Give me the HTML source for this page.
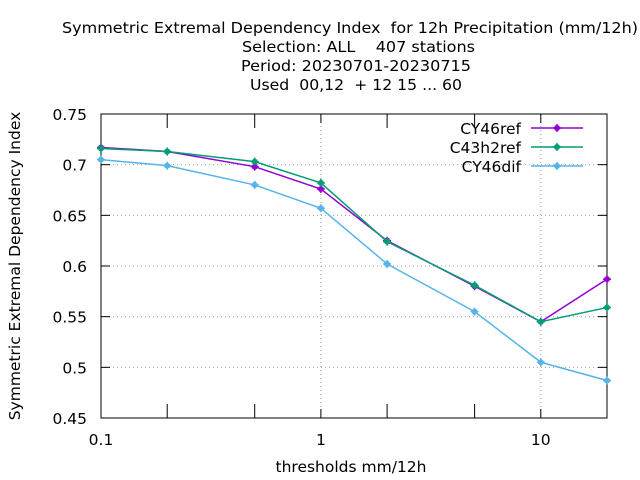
<!DOCTYPE html>
<html><head><meta charset="utf-8"><style>
body{margin:0;background:#fff;}
svg{display:block;font-family:"DejaVu Sans","Liberation Sans",sans-serif;}
text{white-space:pre;}
</style></head><body>
<svg id="chart" width="640" height="480" viewBox="0 0 640 480">
<g font-size="15.5" fill="#000">
<text x="62" y="33" textLength="576" lengthAdjust="spacingAndGlyphs" xml:space="preserve">Symmetric Extremal Dependency Index  for 12h Precipitation (mm/12h)</text>
<text x="242" y="52" textLength="233" lengthAdjust="spacingAndGlyphs" xml:space="preserve">Selection: ALL    407 stations</text>
<text x="241" y="71" textLength="230" lengthAdjust="spacingAndGlyphs" xml:space="preserve">Period: 20230701-20230715</text>
<text x="250" y="90" textLength="212" lengthAdjust="spacingAndGlyphs" xml:space="preserve">Used  00,12  + 12 15 ... 60</text>
</g>
<g id="grid"></g>
<g id="axes"></g>
<g id="series"></g>
<g id="legend"></g>
<text x="351" y="472" font-size="15.5" text-anchor="middle">thresholds mm/12h</text>
<text transform="translate(20,266) rotate(-90)" font-size="15.5" text-anchor="middle">Symmetric Extremal Dependency Index</text>
</svg>
<script>
const thresholds=[0.1,0.2,0.5,1,2,5,10,20];
const cy46ref=[0.717,0.713,0.698,0.676,0.625,0.580,0.545,0.587];
const c43h2ref=[0.716,0.713,0.703,0.682,0.624,0.581,0.545,0.559];
const cy46dif=[0.705,0.699,0.680,0.657,0.602,0.555,0.505,0.487];
const seriesNames=["CY46ref","C43h2ref","CY46dif"];
const yTicks=[0.45,0.5,0.55,0.6,0.65,0.7,0.75];
const yTickLabels=["0.45","0.5","0.55","0.6","0.65","0.7","0.75"];
const xTicks=[0.1,1,10];
const xTickLabels=["0.1","1","10"];
const xMinor=[0.2,0.5,2,5];

const L=101,R=607,T=114,B=418;
const NS="http://www.w3.org/2000/svg";
const X=v=>L+(Math.log10(v)-Math.log10(0.1))*(R-L)/(Math.log10(20)-Math.log10(0.1));
const Y=v=>B-(v-0.45)*(B-T)/(0.75-0.45);
function mk(tag,attrs,parent){const e=document.createElementNS(NS,tag);for(const k in attrs)e.setAttribute(k,attrs[k]);parent.appendChild(e);return e;}
const grid=document.getElementById('grid'),axes=document.getElementById('axes'),ser=document.getElementById('series'),leg=document.getElementById('legend');
yTicks.forEach((v,i)=>{
 if(i>0&&i<yTicks.length-1){const g=mk('line',{x1:L,x2:R,y1:Y(v),y2:Y(v),stroke:'#a0a0a0','stroke-dasharray':'1,3'},grid);
 }
 mk('line',{x1:L,x2:L+9,y1:Y(v),y2:Y(v),stroke:'#000'},axes);
 mk('line',{x1:R,x2:R-9,y1:Y(v),y2:Y(v),stroke:'#000'},axes);
 const t=mk('text',{x:L-14,y:Y(v)+6,'font-size':15.5,'text-anchor':'end'},axes);t.textContent=yTickLabels[i];
 
});
xTicks.forEach((v,i)=>{
 if(i>0){const g=mk('line',{x1:X(v),x2:X(v),y1:T,y2:B,stroke:'#a0a0a0','stroke-dasharray':'1,3'},grid);
 }
 mk('line',{x1:X(v),x2:X(v),y1:B,y2:B-9,stroke:'#000'},axes);
 mk('line',{x1:X(v),x2:X(v),y1:T,y2:T+9,stroke:'#000'},axes);
 const t=mk('text',{x:X(v),y:B+27,'font-size':15.5,'text-anchor':'middle'},axes);t.textContent=xTickLabels[i];
 
});
xMinor.forEach(v=>{
 mk('line',{x1:X(v),x2:X(v),y1:B,y2:B-14,stroke:'#000'},axes);
 mk('line',{x1:X(v),x2:X(v),y1:T,y2:T+14,stroke:'#000'},axes);
});
const fr=mk('rect',{x:L,y:T,width:R-L,height:B-T,fill:'none',stroke:'#000'},axes);

const data=[cy46ref,c43h2ref,cy46dif];
const colors=["#9400d3","#009e73","#56b4e9"];
function star(x,y,c,p){
 mk('line',{x1:x-4,x2:x+4,y1:y,y2:y,stroke:c,'stroke-width':1.5},p);
 mk('line',{x1:x,x2:x,y1:y-4,y2:y+4,stroke:c,'stroke-width':1.5},p);
 mk('circle',{cx:x,cy:y,r:3,fill:c},p);
}
data.forEach((d,s)=>{
 const g=mk('g',{},ser);
 
 
 const pts=d.map((v,i)=>X(thresholds[i])+','+Y(v)).join(' ');
 mk('polyline',{points:pts,fill:'none',stroke:colors[s],'stroke-width':1.5},g);
 d.forEach((v,i)=>star(X(thresholds[i]),Y(v),colors[s],g));
 const e=mk('g',{},leg);
 
 
 const ly=128+s*19;
 const t=mk('text',{x:521,y:ly+6,'font-size':15.5,'text-anchor':'end'},e);t.textContent=seriesNames[s];
 mk('line',{x1:531,x2:583,y1:ly,y2:ly,stroke:colors[s],'stroke-width':1.5},e);
 star(557,ly,colors[s],e);
});
</script>
</body></html>
